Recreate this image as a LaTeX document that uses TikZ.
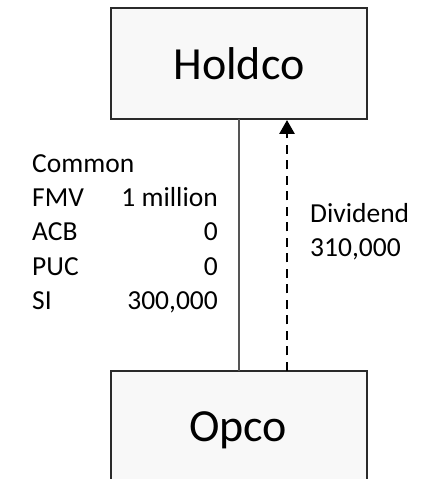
\documentclass[tikz,border=0pt]{standalone}
\usepackage{fontspec}
\setmainfont{Carlito}
\usetikzlibrary{arrows.meta}
\definecolor{boxfill}{HTML}{F8F8F8}
\definecolor{boxline}{HTML}{2A2A2A}
\definecolor{linkgray}{HTML}{555555}
\tikzset{
  entity/.style={draw=boxline, line width=1.5pt, fill=boxfill},
  bigtext/.style={font=\fontsize{46}{55}\selectfont, inner sep=0pt},
  smalltext/.style={font=\fontsize{27.5}{33}\selectfont, inner sep=0pt},
  own/.style={draw=linkgray, line width=1.8pt},
  flow/.style={draw=black, line width=2.8pt, dash pattern=on 9pt off 6.5pt, -{Triangle[width=15pt,length=14pt]}}
}
\begin{document}
\begin{tikzpicture}[x=1pt,y=1pt]
\useasboundingbox (0,0) rectangle (421,479);
\clip (0,0) rectangle (421,479);
\fill[white] (0,0) rectangle (421,479);
% boxes
\draw[entity] (111,360) rectangle (367,471);
\draw[entity] (111,-20) rectangle (367,108);
\coordinate (hb) at (239,360);
\coordinate (ot) at (239,108);
\coordinate (hb2) at (287,359);
\coordinate (ot2) at (287,108);
\node[bigtext, anchor=base] (holdco) at (239,399) {Holdco};
\node[bigtext, anchor=base] (opco) at (238,37) {Opco};
% connectors
\draw[own] (hb) -- (ot);
\draw[flow] (ot2) -- (hb2);
% left labels
\node[smalltext, anchor=base west] (common) at (32,306) {Common};
\node[smalltext, anchor=base west] (fmv) at (32,272) {FMV};
\node[smalltext, anchor=base west] (acb) at (32,238) {ACB};
\node[smalltext, anchor=base west] (puc) at (32,203) {PUC};
\node[smalltext, anchor=base west] (si) at (32,169) {SI};
\node[smalltext, anchor=base east] (fmvv) at (218,272) {1 million};
\node[smalltext, anchor=base east] (acbv) at (218,238) {0};
\node[smalltext, anchor=base east] (pucv) at (218,203) {0};
\node[smalltext, anchor=base east] (siv) at (218,169) {300,000};
% dividend
\node[smalltext, anchor=base west] (div) at (310,256) {Dividend};
\node[smalltext, anchor=base west] (divv) at (310,222) {310,000};
\end{tikzpicture}
\end{document}
